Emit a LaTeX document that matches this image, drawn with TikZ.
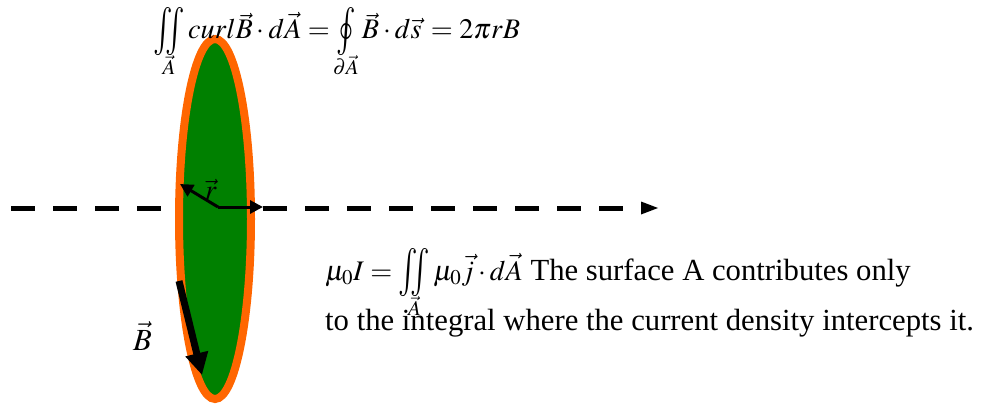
\documentclass[tikz,border=0pt]{standalone}
\usepackage{amsmath}
\usepackage{graphicx}
\usepackage{mathptmx}
\usepackage[no-math]{fontspec}
\setmainfont{Liberation Serif}
\usetikzlibrary{arrows.meta}
\definecolor{disk}{RGB}{0,128,0}
\definecolor{rim}{RGB}{255,102,0}
\newcommand{\myiint}[1]{\mathop{\vcenter{\hbox{\scalebox{1.15}[1.7]{$\iint$}}}}\limits_{\smash{\raisebox{-2pt}{$\scriptstyle #1$}}}}
\newcommand{\myoint}[1]{\mathop{\vcenter{\hbox{\scalebox{1.15}[1.7]{$\oint$}}}}\limits_{\smash{\raisebox{-2pt}{$\scriptstyle #1$}}}}
\newcommand{\mth}{\fontsize{28.3}{34}\selectfont}
\tikzset{
  txt/.style={font=\fontsize{30.7}{34}\selectfont, inner sep=0pt, anchor=base west},
  vecarrow/.style={line width=3pt, -{Triangle[length=13pt,width=13pt]}},
  fieldarrow/.style={line width=7pt, -{Triangle[length=22pt,width=22pt]}}
}
\begin{document}
\begin{tikzpicture}[x=1pt,y=-1pt]
\useasboundingbox (0,0) rectangle (999,404);
% dashed axis
\coordinate (axL) at (11,208);
\coordinate (axR) at (623,208);
\draw[line width=5pt, dash pattern=on 24pt off 18pt] (axL) -- (axR);
\fill (641,201.5) -- (658,208) -- (641,214.5) -- cycle;
% disk
\draw[rim, line width=8pt, fill=disk] (215,219) ellipse [x radius=36, y radius=180];
% r vectors
\coordinate (c) at (218,207);
\coordinate (rt) at (180,184);
\coordinate (ht) at (263,207);
\draw[vecarrow] (c) -- (rt);
\draw[vecarrow] (c) -- (ht);
\node[txt] (rl) at (205,199) {\mth$\vec r$};
% B arrow
\coordinate (bs) at (179,281);
\coordinate (be) at (202,375);
\draw[fieldarrow] (bs) -- (be);
\node[txt] (bl) at (133,350) {$\vec B$};
% equations
\node[txt] (eq1) at (153,39) {\mth$\myiint{\vec A} curl\vec B\cdot d\vec A =\!\myoint{\partial\vec A}\vec B\cdot d\vec s\,=2\pi rB$};
\node[txt] (l1) at (325,280) {{\mth$\mu_0 I=\myiint{\vec A}\mu_0\vec j\cdot d\vec A$} The surface A contributes only};
\node[txt] (l2) at (325,330) {to the integral where the current density intercepts it.};
\end{tikzpicture}
\end{document}
